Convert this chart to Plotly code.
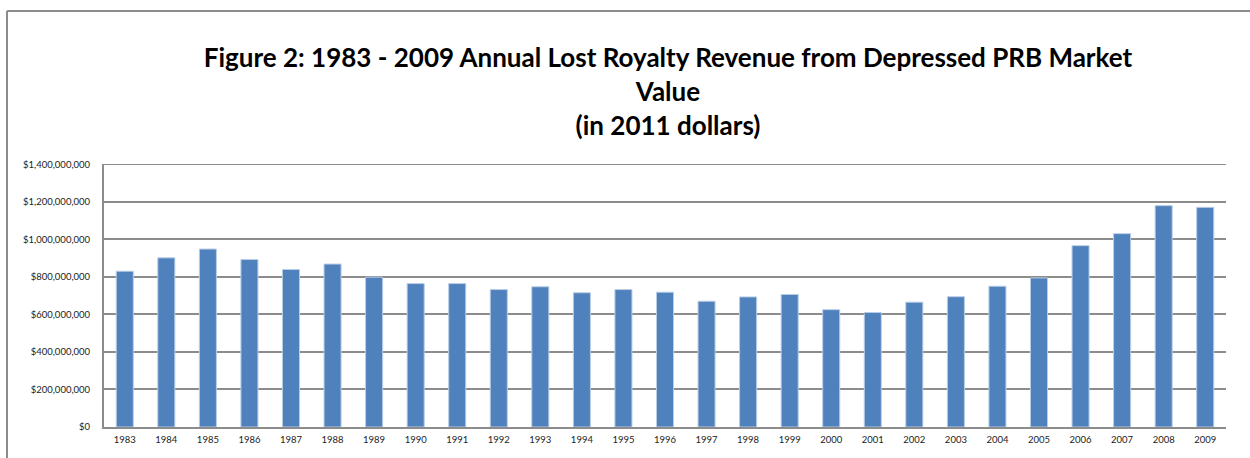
import plotly.graph_objects as go

years = [str(y) for y in range(1983, 2010)]
lost_revenue = [
    830e6, 901e6, 948e6, 892e6, 839e6, 868e6, 798e6, 764e6, 764e6, 732e6,
    747e6, 715e6, 732e6, 718e6, 670e6, 693e6, 706e6, 625e6, 610e6, 665e6,
    694e6, 750e6, 794e6, 966e6, 1030e6, 1179e6, 1170e6,
]
y_ticks = [0, 200e6, 400e6, 600e6, 800e6, 1000e6, 1200e6, 1400e6]

W, H = 1250, 458
L, R, T, B = 104, 24, 164, 31
pw, ph = W - L - R, H - T - B

def px_x(p):
    return (p - L) / pw

def px_y(p):
    return (H - B - p) / ph

fig = go.Figure(
    go.Bar(
        x=years,
        y=lost_revenue,
        marker=dict(color="#4F81BD", line=dict(color="#B9CDE5", width=1)),
    )
)

border = "#8C8C8C"
fig.update_layout(
    width=W,
    height=H,
    margin=dict(l=L, r=R, t=T, b=B),
    paper_bgcolor="white",
    plot_bgcolor="white",
    bargap=0.59,
    showlegend=False,
    font=dict(family="Lato, Arial", color="#000000"),
    title=dict(
        text="<b>Figure 2: 1983 - 2009 Annual Lost Royalty Revenue from Depressed PRB Market<br>Value<br>(in 2011 dollars)</b>",
        x=668 / W,
        xanchor="center",
        y=1 - 67 / H,
        yanchor="top",
        yref="container",
        font=dict(family="Lato, Arial", size=26, color="#000000"),
    ),
    xaxis=dict(
        type="category",
        showgrid=False,
        showline=True,
        linecolor=border,
        linewidth=2,
        ticks="",
        ticklabelstandoff=3,
        tickfont=dict(size=9.5, color="#222222"),
        fixedrange=True,
    ),
    yaxis=dict(
        range=[0, 1401e6],
        tickvals=y_ticks,
        tickformat="$,.0f",
        showgrid=True,
        gridcolor=border,
        gridwidth=1.5,
        showline=True,
        linecolor=border,
        linewidth=2,
        zeroline=False,
        ticks="",
        ticklabelstandoff=10,
        tickfont=dict(size=9.5, color="#222222"),
        fixedrange=True,
    ),
    shapes=[
        dict(type="line", xref="paper", yref="y", layer="below",
             x0=0, x1=1, y0=y_ticks[-1], y1=y_ticks[-1],
             line=dict(color=border, width=1.5)),
        dict(type="line", xref="paper", yref="paper",
             x0=px_x(7), x1=px_x(W), y0=px_y(11), y1=px_y(11),
             line=dict(color=border, width=2)),
        dict(type="line", xref="paper", yref="paper",
             x0=px_x(7), x1=px_x(7), y0=px_y(11), y1=px_y(H),
             line=dict(color=border, width=2)),
    ],
)

fig.write_html("out.html")
